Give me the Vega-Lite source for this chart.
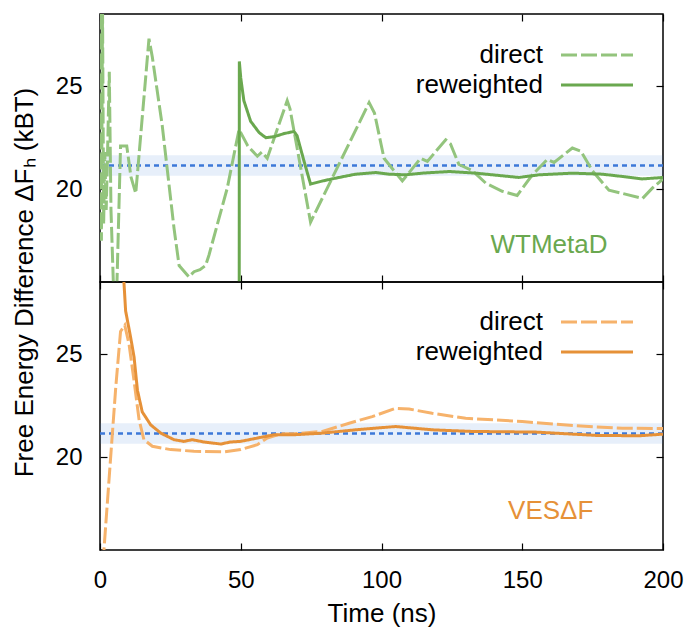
{
  "$schema": "https://vega.github.io/schema/vega-lite/v6.json",
  "padding": {"left": 10, "top": 12, "right": 6, "bottom": 5},
  "spacing": 0,
  "bounds": "flush",
  "config": {
    "font": "Liberation Sans",
    "view": {"stroke": "#000000", "strokeWidth": 1.5},
    "axis": {
      "domain": false, "grid": false, "tickSize": -7, "tickColor": "#000000", "tickWidth": 1.2, "labelFlush": false,
      "labelFontSize": 24, "labelColor": "#000000", "labelFont": "Liberation Sans", "labelPadding": 25,
      "titleFontSize": 26, "titleColor": "#000000", "titleFont": "Liberation Sans", "titleFontWeight": "normal"
    },
    "legend": {
      "orient": "none", "title": null, "labelFontSize": 26, "labelFont": "Liberation Sans", "labelColor": "#000000",
      "symbolType": "M-4,0H4", "symbolSize": 324, "symbolStrokeWidth": 3, "labelAlign": "right", "labelOffset": -67,
      "labelBaseline": "middle", "rowPadding": 4, "padding": 0, "labelLimit": 400
    }
  },
  "datasets": {
    "ref": [{"ref": 21.15, "lo": 20.65, "hi": 21.65}],
    "wt": [
      {"time": 0, "dF": 29.5, "series": "direct"},
      {"time": 0.5, "dF": 17.5, "series": "direct"},
      {"time": 0.9, "dF": 28.8, "series": "direct"},
      {"time": 1.3, "dF": 18.3, "series": "direct"},
      {"time": 1.7, "dF": 21.8, "series": "direct"},
      {"time": 2.2, "dF": 19.0, "series": "direct"},
      {"time": 2.6, "dF": 21.2, "series": "direct"},
      {"time": 3.3, "dF": 25.7, "series": "direct"},
      {"time": 3.9, "dF": 19.0, "series": "direct"},
      {"time": 4.9, "dF": 14.8, "series": "direct"},
      {"time": 5.9, "dF": 14.8, "series": "direct"},
      {"time": 7.3, "dF": 22.1, "series": "direct"},
      {"time": 9.5, "dF": 22.1, "series": "direct"},
      {"time": 11.0, "dF": 20.6, "series": "direct"},
      {"time": 12.7, "dF": 19.8, "series": "direct"},
      {"time": 17.4, "dF": 27.3, "series": "direct"},
      {"time": 18.6, "dF": 26.4, "series": "direct"},
      {"time": 22.1, "dF": 23.1, "series": "direct"},
      {"time": 26.3, "dF": 18.1, "series": "direct"},
      {"time": 28.1, "dF": 16.3, "series": "direct"},
      {"time": 31.6, "dF": 15.75, "series": "direct"},
      {"time": 33.4, "dF": 16.0, "series": "direct"},
      {"time": 35.5, "dF": 16.1, "series": "direct"},
      {"time": 37.5, "dF": 16.3, "series": "direct"},
      {"time": 38.7, "dF": 16.8, "series": "direct"},
      {"time": 45.2, "dF": 20.05, "series": "direct"},
      {"time": 49.4, "dF": 22.9, "series": "direct"},
      {"time": 52.5, "dF": 22.1, "series": "direct"},
      {"time": 55.9, "dF": 21.6, "series": "direct"},
      {"time": 57.5, "dF": 21.8, "series": "direct"},
      {"time": 59.4, "dF": 21.5, "series": "direct"},
      {"time": 66.5, "dF": 24.3, "series": "direct"},
      {"time": 67.5, "dF": 23.9, "series": "direct"},
      {"time": 74.8, "dF": 18.4, "series": "direct"},
      {"time": 95.6, "dF": 24.2, "series": "direct"},
      {"time": 97.5, "dF": 23.7, "series": "direct"},
      {"time": 100.9, "dF": 21.5, "series": "direct"},
      {"time": 107.4, "dF": 20.4, "series": "direct"},
      {"time": 113.9, "dF": 21.5, "series": "direct"},
      {"time": 116.3, "dF": 21.35, "series": "direct"},
      {"time": 122.8, "dF": 22.4, "series": "direct"},
      {"time": 124.5, "dF": 22.2, "series": "direct"},
      {"time": 127.5, "dF": 21.2, "series": "direct"},
      {"time": 132.3, "dF": 20.9, "series": "direct"},
      {"time": 137.0, "dF": 20.3, "series": "direct"},
      {"time": 142.9, "dF": 19.9, "series": "direct"},
      {"time": 148.2, "dF": 19.7, "series": "direct"},
      {"time": 153.6, "dF": 20.7, "series": "direct"},
      {"time": 158.9, "dF": 21.45, "series": "direct"},
      {"time": 161.3, "dF": 21.3, "series": "direct"},
      {"time": 167.8, "dF": 22.0, "series": "direct"},
      {"time": 170.8, "dF": 21.85, "series": "direct"},
      {"time": 174.9, "dF": 20.9, "series": "direct"},
      {"time": 180.8, "dF": 19.95, "series": "direct"},
      {"time": 185.5, "dF": 19.8, "series": "direct"},
      {"time": 192.7, "dF": 19.55, "series": "direct"},
      {"time": 196.2, "dF": 20.05, "series": "direct"},
      {"time": 200, "dF": 20.5, "series": "direct"},
      {"time": 49.4, "dF": 0, "series": "reweighted"},
      {"time": 49.5, "dF": 26.2, "series": "reweighted"},
      {"time": 50.0, "dF": 25.4, "series": "reweighted"},
      {"time": 51.1, "dF": 24.3, "series": "reweighted"},
      {"time": 53.5, "dF": 23.3, "series": "reweighted"},
      {"time": 56.5, "dF": 22.75, "series": "reweighted"},
      {"time": 58.9, "dF": 22.5, "series": "reweighted"},
      {"time": 61.9, "dF": 22.55, "series": "reweighted"},
      {"time": 65.4, "dF": 22.7, "series": "reweighted"},
      {"time": 68.9, "dF": 22.8, "series": "reweighted"},
      {"time": 70.0, "dF": 22.6, "series": "reweighted"},
      {"time": 72.5, "dF": 21.35, "series": "reweighted"},
      {"time": 74.8, "dF": 20.25, "series": "reweighted"},
      {"time": 79, "dF": 20.4, "series": "reweighted"},
      {"time": 84.9, "dF": 20.57, "series": "reweighted"},
      {"time": 90.8, "dF": 20.73, "series": "reweighted"},
      {"time": 97.9, "dF": 20.81, "series": "reweighted"},
      {"time": 102.7, "dF": 20.73, "series": "reweighted"},
      {"time": 108.6, "dF": 20.7, "series": "reweighted"},
      {"time": 114.5, "dF": 20.78, "series": "reweighted"},
      {"time": 124, "dF": 20.86, "series": "reweighted"},
      {"time": 133.5, "dF": 20.78, "series": "reweighted"},
      {"time": 139.4, "dF": 20.7, "series": "reweighted"},
      {"time": 148.8, "dF": 20.57, "series": "reweighted"},
      {"time": 156, "dF": 20.7, "series": "reweighted"},
      {"time": 167.8, "dF": 20.78, "series": "reweighted"},
      {"time": 178.4, "dF": 20.73, "series": "reweighted"},
      {"time": 185.5, "dF": 20.62, "series": "reweighted"},
      {"time": 192.6, "dF": 20.5, "series": "reweighted"},
      {"time": 200, "dF": 20.57, "series": "reweighted"}
    ],
    "ves": [
      {"time": 0.5, "dF": 10, "series": "direct"},
      {"time": 1.4, "dF": 15.5, "series": "direct"},
      {"time": 3.2, "dF": 18.9, "series": "direct"},
      {"time": 5.6, "dF": 23.4, "series": "direct"},
      {"time": 7.3, "dF": 26.1, "series": "direct"},
      {"time": 8.8, "dF": 26.4, "series": "direct"},
      {"time": 10.3, "dF": 25.5, "series": "direct"},
      {"time": 12.1, "dF": 23.7, "series": "direct"},
      {"time": 13.9, "dF": 21.8, "series": "direct"},
      {"time": 15.6, "dF": 20.85, "series": "direct"},
      {"time": 18.6, "dF": 20.53, "series": "direct"},
      {"time": 25.1, "dF": 20.37, "series": "direct"},
      {"time": 33.4, "dF": 20.29, "series": "direct"},
      {"time": 44, "dF": 20.26, "series": "direct"},
      {"time": 50, "dF": 20.37, "series": "direct"},
      {"time": 55.9, "dF": 20.61, "series": "direct"},
      {"time": 59.4, "dF": 20.93, "series": "direct"},
      {"time": 64.2, "dF": 21.14, "series": "direct"},
      {"time": 68.9, "dF": 21.14, "series": "direct"},
      {"time": 79, "dF": 21.25, "series": "direct"},
      {"time": 88.5, "dF": 21.65, "series": "direct"},
      {"time": 96.7, "dF": 21.97, "series": "direct"},
      {"time": 105, "dF": 22.37, "series": "direct"},
      {"time": 109.8, "dF": 22.34, "series": "direct"},
      {"time": 118, "dF": 22.13, "series": "direct"},
      {"time": 129.9, "dF": 21.89, "series": "direct"},
      {"time": 150, "dF": 21.73, "series": "direct"},
      {"time": 161.9, "dF": 21.6, "series": "direct"},
      {"time": 173.7, "dF": 21.49, "series": "direct"},
      {"time": 185.5, "dF": 21.41, "series": "direct"},
      {"time": 200, "dF": 21.39, "series": "direct"},
      {"time": 7.0, "dF": 32, "series": "reweighted"},
      {"time": 9.1, "dF": 27.1, "series": "reweighted"},
      {"time": 10.9, "dF": 25.8, "series": "reweighted"},
      {"time": 12.1, "dF": 24.86, "series": "reweighted"},
      {"time": 13.3, "dF": 23.25, "series": "reweighted"},
      {"time": 15, "dF": 22.2, "series": "reweighted"},
      {"time": 18, "dF": 21.57, "series": "reweighted"},
      {"time": 21.6, "dF": 21.17, "series": "reweighted"},
      {"time": 26.3, "dF": 20.85, "series": "reweighted"},
      {"time": 29.8, "dF": 20.77, "series": "reweighted"},
      {"time": 32.8, "dF": 20.85, "series": "reweighted"},
      {"time": 36.9, "dF": 20.74, "series": "reweighted"},
      {"time": 42.9, "dF": 20.64, "series": "reweighted"},
      {"time": 46.4, "dF": 20.74, "series": "reweighted"},
      {"time": 50, "dF": 20.77, "series": "reweighted"},
      {"time": 55.9, "dF": 20.93, "series": "reweighted"},
      {"time": 61.8, "dF": 21.09, "series": "reweighted"},
      {"time": 68.9, "dF": 21.09, "series": "reweighted"},
      {"time": 79, "dF": 21.17, "series": "reweighted"},
      {"time": 90.8, "dF": 21.33, "series": "reweighted"},
      {"time": 105, "dF": 21.49, "series": "reweighted"},
      {"time": 118, "dF": 21.33, "series": "reweighted"},
      {"time": 132.3, "dF": 21.25, "series": "reweighted"},
      {"time": 154.8, "dF": 21.22, "series": "reweighted"},
      {"time": 165.4, "dF": 21.14, "series": "reweighted"},
      {"time": 176.1, "dF": 21.06, "series": "reweighted"},
      {"time": 191.5, "dF": 21.04, "series": "reweighted"},
      {"time": 200, "dF": 21.12, "series": "reweighted"}
    ]
  },
  "resolve": {
    "scale": {"color": "independent", "strokeDash": "independent"},
    "legend": {"color": "independent", "strokeDash": "independent"}
  },
  "vconcat": [
    {
      "width": 563,
      "height": 268,
      "layer": [
        {
          "data": {"name": "ref"},
          "mark": {"type": "rect", "color": "#3c78d8", "opacity": 0.12},
          "encoding": {
            "y": {"field": "lo", "type": "quantitative", "scale": {"domain": [15.5, 28.5], "nice": false, "zero": false}, "axis": null},
            "y2": {"field": "hi"}
          }
        },
        {
          "data": {"name": "ref"},
          "mark": {"type": "rule", "color": "#3c78d8", "strokeWidth": 2.5, "strokeDash": [5, 4]},
          "encoding": {"y": {"field": "ref", "type": "quantitative", "axis": null}}
        },
        {
          "data": {"name": "wt"},
          "mark": {"type": "line", "strokeWidth": 3, "clip": true},
          "encoding": {
            "x": {"field": "time", "type": "quantitative", "scale": {"domain": [0, 200], "nice": false},
                  "axis": {"orient": "bottom", "values": [0, 50, 100, 150, 200], "labels": false, "title": null}},
            "y": {"field": "dF", "type": "quantitative",
                  "axis": {"orient": "left", "values": [20, 25], "title": "Free Energy Difference ΔFₕ (kBT)",
                           "titleX": -68, "titleY": 268, "titleAngle": 270, "titleAlign": "center", "titleBaseline": "alphabetic"}},
            "color": {"field": "series", "type": "nominal", "scale": {"domain": ["direct", "reweighted"], "range": ["#93c47d", "#6aa84f"]},
                      "legend": {"legendX": 484, "legendY": 28}},
            "strokeDash": {"field": "series", "type": "nominal", "scale": {"domain": ["direct", "reweighted"], "range": [[16, 4], [1, 0]]},
                           "legend": {"legendX": 484, "legendY": 28}}
          }
        },
        {
          "data": {"values": [{"label": "WTMetaD", "time": 159.5, "dF": 17.3}]},
          "mark": {"type": "text", "fontSize": 26, "color": "#6aa84f", "font": "Liberation Sans", "baseline": "middle"},
          "encoding": {
            "x": {"field": "time", "type": "quantitative", "axis": {"orient": "top", "values": [0, 50, 100, 150, 200], "labels": false, "title": null}},
            "y": {"field": "dF", "type": "quantitative", "axis": {"orient": "right", "values": [20, 25], "labels": false, "title": null}},
            "text": {"field": "label"}
          }
        }
      ],
      "resolve": {"axis": {"x": "independent", "y": "independent"}}
    },
    {
      "width": 563,
      "height": 268,
      "layer": [
        {
          "data": {"name": "ref"},
          "mark": {"type": "rect", "color": "#3c78d8", "opacity": 0.12},
          "encoding": {
            "y": {"field": "lo", "type": "quantitative", "scale": {"domain": [15.5, 28.5], "nice": false, "zero": false}, "axis": null},
            "y2": {"field": "hi"}
          }
        },
        {
          "data": {"name": "ref"},
          "mark": {"type": "rule", "color": "#3c78d8", "strokeWidth": 2.5, "strokeDash": [5, 4]},
          "encoding": {"y": {"field": "ref", "type": "quantitative", "axis": null}}
        },
        {
          "data": {"name": "ves"},
          "mark": {"type": "line", "strokeWidth": 3, "clip": true},
          "encoding": {
            "x": {"field": "time", "type": "quantitative", "scale": {"domain": [0, 200], "nice": false},
                  "axis": {"orient": "bottom", "values": [0, 50, 100, 150, 200], "title": "Time (ns)", "titlePadding": 8}},
            "y": {"field": "dF", "type": "quantitative", "axis": {"orient": "left", "values": [20, 25], "title": null}},
            "color": {"field": "series", "type": "nominal", "scale": {"domain": ["direct", "reweighted"], "range": ["#f6b26b", "#e69138"]},
                      "legend": {"legendX": 484, "legendY": 27}},
            "strokeDash": {"field": "series", "type": "nominal", "scale": {"domain": ["direct", "reweighted"], "range": [[16, 4], [1, 0]]},
                           "legend": {"legendX": 484, "legendY": 27}}
          }
        },
        {
          "data": {"values": [{"label": "VESΔF", "time": 160.1, "dF": 17.4}]},
          "mark": {"type": "text", "fontSize": 26, "color": "#e69138", "font": "Liberation Sans", "baseline": "middle"},
          "encoding": {
            "x": {"field": "time", "type": "quantitative", "axis": {"orient": "top", "values": [0, 50, 100, 150, 200], "labels": false, "title": null}},
            "y": {"field": "dF", "type": "quantitative", "axis": {"orient": "right", "values": [20, 25], "labels": false, "title": null}},
            "text": {"field": "label"}
          }
        }
      ],
      "resolve": {"axis": {"x": "independent", "y": "independent"}}
    }
  ]
}
